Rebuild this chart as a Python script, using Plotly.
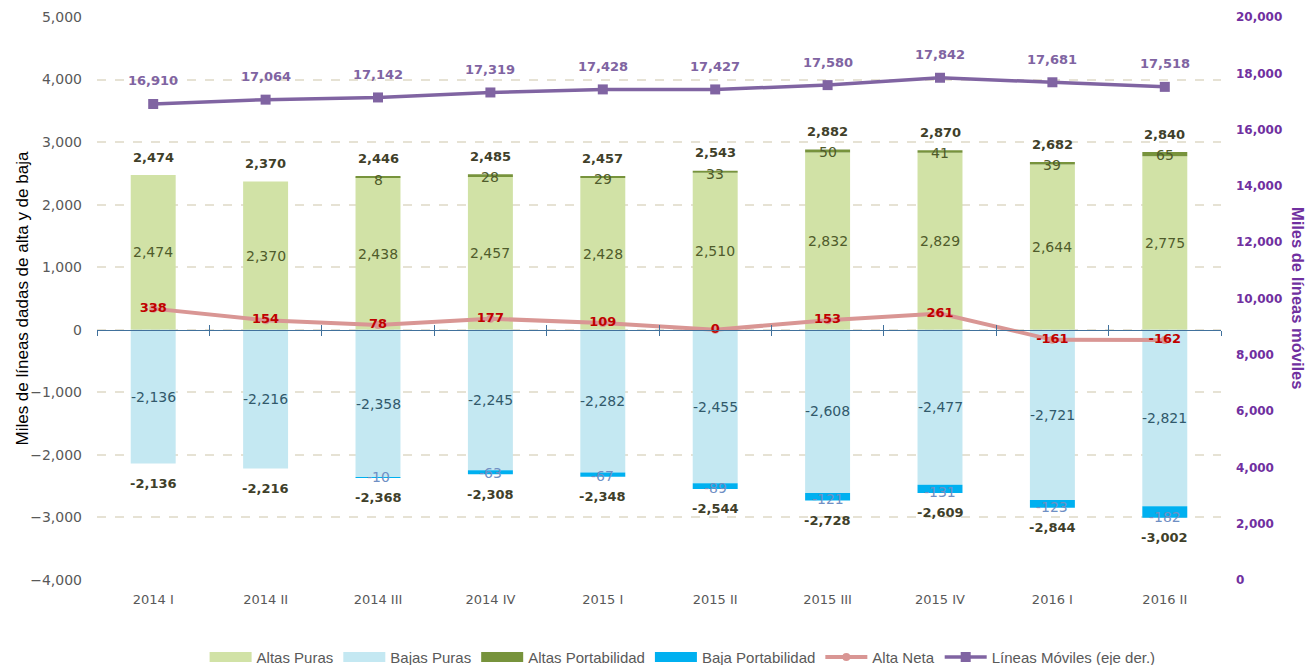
import plotly.graph_objects as go

categories = ["2014 I", "2014 II", "2014 III", "2014 IV", "2015 I", "2015 II",
              "2015 III", "2015 IV", "2016 I", "2016 II"]
altas_puras = [2474, 2370, 2438, 2457, 2428, 2510, 2832, 2829, 2644, 2775]
altas_port = [0, 0, 8, 28, 29, 33, 50, 41, 39, 65]
altas_total = [2474, 2370, 2446, 2485, 2457, 2543, 2882, 2870, 2682, 2840]
bajas_puras = [-2136, -2216, -2358, -2245, -2282, -2455, -2608, -2477, -2721, -2821]
baja_port = [0, 0, -10, -63, -67, -89, -121, -131, -123, -182]
bajas_total = [-2136, -2216, -2368, -2308, -2348, -2544, -2728, -2609, -2844, -3002]
alta_neta = [338, 154, 78, 177, 109, 0, 153, 261, -161, -162]
lineas_moviles = [16910, 17064, 17142, 17319, 17428, 17427, 17580, 17842, 17681, 17518]

left_ticks = [-4000, -3000, -2000, -1000, 0, 1000, 2000, 3000, 4000, 5000]
right_ticks = list(range(0, 20001, 2000))

C_ALTAS = "#D1E2A6"
C_BAJAS = "#C4E8F2"
C_ALTAS_PORT = "#77933C"
C_BAJA_PORT = "#00B0F0"
C_NETA = "#D99694"
C_LINEAS = "#8064A2"
AXIS_BLUE = "#41719C"

NUM = "DejaVu Sans"
TXT = "Liberation Sans"

fig = go.Figure()
bar_series = [("Altas Puras", altas_puras, C_ALTAS),
              ("Bajas Puras", bajas_puras, C_BAJAS),
              ("Altas Portabilidad", altas_port, C_ALTAS_PORT),
              ("Baja Portabilidad", baja_port, C_BAJA_PORT)]
for name, vals, col in bar_series:
    fig.add_trace(go.Bar(name=name, x=categories, y=vals, legendgroup=name, showlegend=False,
                         marker=dict(color=col, line=dict(width=0)), width=0.4))
# legend swatches (wide rectangles like the original) for the bar series
for name, vals, col in bar_series:
    fig.add_trace(go.Scatter(name=name, x=[None], y=[None], legendgroup=name, mode="lines",
                             line=dict(color=col, width=10), hoverinfo="skip"))
fig.add_trace(go.Scatter(name="Alta Neta", x=categories, y=alta_neta, xaxis="x2",
                         mode="lines+markers+text",
                         line=dict(color=C_NETA, width=4),
                         marker=dict(symbol="circle", size=8, color=C_NETA),
                         text=[f"{v:,}" for v in alta_neta], textposition="middle center",
                         textfont=dict(family=NUM, size=13, color="#C00000", weight="bold")))
fig.add_trace(go.Scatter(name="Líneas Móviles (eje der.)", x=categories, y=lineas_moviles,
                         xaxis="x3", yaxis="y2", mode="lines+markers",
                         line=dict(color=C_LINEAS, width=3.5),
                         marker=dict(symbol="square", size=10, color=C_LINEAS)))

ann = []
for c, ap, apt, at, bp, bpt, bt, lm in zip(categories, altas_puras, altas_port, altas_total,
                                          bajas_puras, baja_port, bajas_total, lineas_moviles):
    ann.append(dict(x=c, y=ap / 2, text=f"{ap:,}", showarrow=False,
                    font=dict(family=NUM, size=14, color="#4F5B2B")))
    ann.append(dict(x=c, y=bp / 2, text=f"{bp:,}", showarrow=False,
                    font=dict(family=NUM, size=14, color="#31596B")))
    if apt:
        ann.append(dict(x=c, y=at, text=f"{apt:,}", showarrow=False, yshift=-3,
                        font=dict(family=NUM, size=14, color="#4F5B2B")))
    if bpt:
        ann.append(dict(x=c, y=bt, text=f"{bpt:,}", showarrow=False, yshift=1,
                        font=dict(family=NUM, size=14, color="#6F8FC4")))
    ann.append(dict(x=c, y=at, text=f"<b>{at:,}</b>", showarrow=False, yshift=18,
                    font=dict(family=NUM, size=13, color="#403F2A")))
    ann.append(dict(x=c, y=bt, text=f"<b>{bt:,}</b>", showarrow=False, yshift=-20,
                    font=dict(family=NUM, size=13, color="#403F2A")))
    ann.append(dict(x=c, y=lm, yref="y2", text=f"<b>{lm:,}</b>", showarrow=False, yshift=23,
                    font=dict(family=NUM, size=13, color=C_LINEAS)))

ann.append(dict(xref="paper", yref="paper", x=-0.0667, y=0.5, xanchor="center", yanchor="middle",
                text="Miles de líneas dadas de alta y de baja", textangle=-90, showarrow=False,
                font=dict(family=TXT, size=17, color="#000000")))
ann.append(dict(xref="paper", yref="paper", x=1.069, y=0.5, xanchor="center", yanchor="middle",
                text="<b>Miles de líneas móviles</b>", textangle=90, showarrow=False,
                font=dict(family=TXT, size=16.5, color="#7030A0")))

common_x = dict(type="category", categoryorder="array", categoryarray=categories,
                range=[-0.5, len(categories) - 0.5])

# page body has an 8px default margin: the figure is sized/offset to compensate
fig.update_layout(
    width=1305, height=657,
    margin=dict(l=89, r=92, t=9, b=85, autoexpand=False),
    paper_bgcolor="white", plot_bgcolor="white",
    barmode="relative", bargap=0.6,
    showlegend=True,
    legend=dict(orientation="h", x=0.521, xanchor="center", y=-0.137, yanchor="middle",
                itemwidth=42,
                font=dict(family=TXT, size=15, color="#595959"), traceorder="normal"),
    xaxis=dict(**common_x, showline=False, showgrid=False, ticks="",
               tickfont=dict(family=NUM, size=13, color="#595959"), ticklabelstandoff=10),
    xaxis2=dict(**common_x, overlaying="x", anchor="free", position=4 / 9,
                showline=True, linecolor=AXIS_BLUE, linewidth=1,
                ticks="outside", tickson="boundaries", ticklen=5, tickcolor=AXIS_BLUE,
                showticklabels=False, showgrid=False),
    xaxis3=dict(**common_x, overlaying="x", anchor="free", position=4 / 9,
                showline=False, ticks="inside", tickson="boundaries", ticklen=5,
                tickcolor=AXIS_BLUE, showticklabels=False, showgrid=False),
    yaxis=dict(range=[-4000, 5000], tickvals=left_ticks, tickformat=",",
               showgrid=True, gridcolor="#E6E2D4", gridwidth=1.5, griddash="dash",
               zeroline=False, showline=False,
               tickfont=dict(family=NUM, size=14, color="#595959"), ticklabelstandoff=14),
    yaxis2=dict(range=[0, 20000], tickvals=right_ticks, tickformat=",", overlaying="y",
                side="right", showgrid=False, zeroline=False, showline=False,
                tickfont=dict(family=NUM, size=12, color="#7030A0", weight="bold"),
                ticklabelstandoff=14),
    annotations=ann,
)

fig.write_html("out.html")
